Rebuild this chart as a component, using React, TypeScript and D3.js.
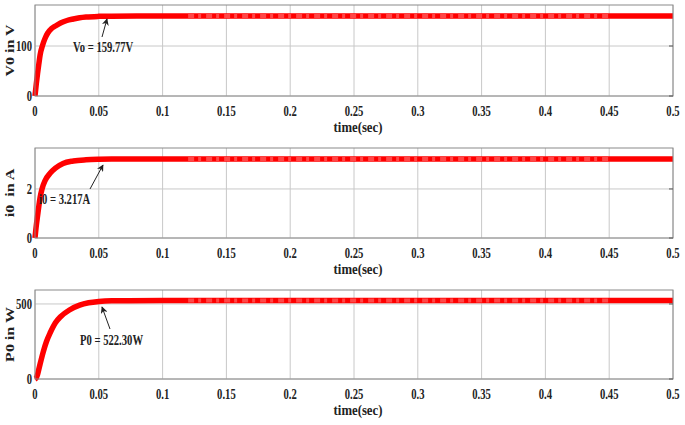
import React from 'react';
import * as d3 from 'd3';

// ---- data ----
const timeTicks = [0, 0.05, 0.1, 0.15, 0.2, 0.25, 0.3, 0.35, 0.4, 0.45, 0.5];
const timeTickLabels = ['0', '0.05', '0.1', '0.15', '0.2', '0.25', '0.3', '0.35', '0.4', '0.45', '0.5'];

const voltageTime = [0, 0.001, 0.002, 0.003, 0.004, 0.006, 0.008, 0.01, 0.013, 0.016, 0.02, 0.025, 0.03, 0.035, 0.04, 0.05, 0.06, 0.1, 0.2, 0.3, 0.4, 0.5];
const voltageValues = [0, 24, 45, 64, 82, 102, 116, 126, 135, 140, 146, 151, 154, 156.5, 158, 159.3, 159.7, 159.77, 159.77, 159.77, 159.77, 159.77];

const currentTime = [0, 0.001, 0.002, 0.003, 0.004, 0.0055, 0.008, 0.012, 0.016, 0.022, 0.03, 0.04, 0.05, 0.06, 0.1, 0.2, 0.3, 0.4, 0.5];
const currentValues = [0, 0.5, 0.9, 1.3, 1.65, 2.0, 2.35, 2.65, 2.85, 3.04, 3.14, 3.19, 3.21, 3.217, 3.217, 3.217, 3.217, 3.217, 3.217];

const powerTime = [0, 0.001, 0.002, 0.003, 0.004, 0.0065, 0.009, 0.012, 0.016, 0.02, 0.027, 0.035, 0.042, 0.05, 0.06, 0.1, 0.2, 0.3, 0.4, 0.5];
const powerValues = [0, 8, 30, 65, 100, 182, 250, 310, 375, 415, 460, 492, 508, 517, 521, 522.3, 522.3, 522.3, 522.3, 522.3];

const voltageTicks = [0, 100];
const currentTicks = [0, 2];
const powerTicks = [0, 500];

const yLabels = ['V0 in V', 'i0  in A', 'P0 in W'];
const annotationTexts = ['Vo = 159.77V', 'i0 = 3.217A', 'P0 = 522.30W'];
const xAxisTitle = 'time(sec)';

// ---- layout ----
const W = 685;
const H = 425;
const LEFT = 35;
const RIGHT = 673;
const SERIF = "'Liberation Serif', 'Times New Roman', serif";
const SX = 0.76;

const panels = [
  {
    top: 5, bottom: 96, yMax: 182, ticks: voltageTicks, label: yLabels[0],
    t: voltageTime, v: voltageValues, note: annotationTexts[0],
    text: [73, 52], tail: [102, 37], tip: [107, 19],
  },
  {
    top: 148, bottom: 238, yMax: 3.67, ticks: currentTicks, label: yLabels[1],
    t: currentTime, v: currentValues, note: annotationTexts[1],
    text: [39, 204], tail: [90, 189], tip: [103, 165],
  },
  {
    top: 290, bottom: 379, yMax: 593, ticks: powerTicks, label: yLabels[2],
    t: powerTime, v: powerValues, note: annotationTexts[2],
    text: [80, 345], tail: [110, 329], tip: [102, 307],
  },
];

const x = d3.scaleLinear().domain([0, 0.5]).range([LEFT, RIGHT]);

function Panel({ p, idx }: { p: any; idx: number }) {
  const y = d3.scaleLinear().domain([0, p.yMax]).range([p.bottom, p.top]);
  const pts: [number, number][] = p.t.map((t: number, i: number) => [t, p.v[i]]);
  const line = d3.line<[number, number]>().x(d => x(d[0])).y(d => y(d[1])).curve(d3.curveMonotoneX);
  const path = line(pts) || '';
  const midY = (p.top + p.bottom) / 2;
  const steady = p.v[p.v.length - 1];
  const ripplePts: [number, number][] = [[0.12, steady], [0.45, steady]];
  return (
    <g>
      {/* grid */}
      {timeTicks.map((t, i) => (
        <line key={'gx' + i} x1={x(t)} x2={x(t)} y1={p.top} y2={p.bottom} stroke="#c8c8c8" strokeWidth={1} />
      ))}
      {p.ticks.map((v: number, i: number) => (
        <line key={'gy' + i} x1={LEFT} x2={RIGHT} y1={y(v)} y2={y(v)} stroke="#c8c8c8" strokeWidth={1} />
      ))}
      {/* curve */}
      <path d={path} fill="none" stroke="#ff0000" strokeWidth={5.5} strokeLinejoin="round" strokeLinecap="butt" />
      <path d={line(ripplePts) || ''} fill="none" stroke="#ffffff" strokeOpacity={0.28} strokeWidth={4} strokeDasharray="6 4 3 5" />
      {/* box */}
      <rect x={LEFT} y={p.top} width={RIGHT - LEFT} height={p.bottom - p.top} fill="none" stroke="#8a8a8a" strokeWidth={1} />
      {/* y ticks */}
      {p.ticks.map((v: number, i: number) => (
        <g key={'yt' + i}>
          <line x1={RIGHT - 4} x2={RIGHT} y1={y(v)} y2={y(v)} stroke="#555" />
          <text transform={`translate(${LEFT - 3},${y(v) + 5}) scale(${SX},1)`} textAnchor="end"
            fontFamily={SERIF} fontWeight="bold" fontSize={14} fill="#222">{v}</text>
        </g>
      ))}
      {/* x tick labels */}
      {timeTicks.map((t, i) => (
        <text key={'xt' + i} transform={`translate(${x(t)},${p.bottom + 20}) scale(${SX},1)`} textAnchor="middle"
          fontFamily={SERIF} fontWeight="bold" fontSize={14} fill="#222">{timeTickLabels[i]}</text>
      ))}
      <text transform={`translate(${(LEFT + RIGHT) / 2 + 4},${p.bottom + 36}) scale(0.85,1)`} textAnchor="middle"
        fontFamily={SERIF} fontWeight="bold" fontSize={15} fill="#222">{xAxisTitle}</text>
      {/* y label */}
      <text transform={`translate(${14},${midY}) rotate(-90) scale(1,${SX})`} textAnchor="middle"
        fontFamily={SERIF} fontWeight="bold" fontSize={16} fill="#222" style={{ whiteSpace: 'pre' }}>{p.label}</text>
      {/* annotation */}
      <line x1={p.tail[0]} y1={p.tail[1]} x2={p.tip[0]} y2={p.tip[1]} stroke="#222" strokeWidth={1} markerEnd={`url(#arrow${idx})`} />
      <text transform={`translate(${p.text[0]},${p.text[1]}) scale(${SX},1)`}
        fontFamily={SERIF} fontWeight="bold" fontSize={14} fill="#222">{p.note}</text>
    </g>
  );
}

export default function App() {
  return (
    <svg width={W} height={H} style={{ position: 'fixed', left: 0, top: 0, background: '#fff' }}>
      <defs>
        {panels.map((_, i) => (
          <marker key={i} id={`arrow${i}`} viewBox="0 0 10 10" refX={9} refY={5} markerWidth={7} markerHeight={7} orient="auto">
            <path d="M0,0 L10,5 L0,10 L3,5 Z" fill="#222" />
          </marker>
        ))}
      </defs>
      <rect x={0} y={0} width={W} height={H} fill="#fff" />
      {panels.map((p, i) => <Panel key={i} p={p} idx={i} />)}
    </svg>
  );
}
